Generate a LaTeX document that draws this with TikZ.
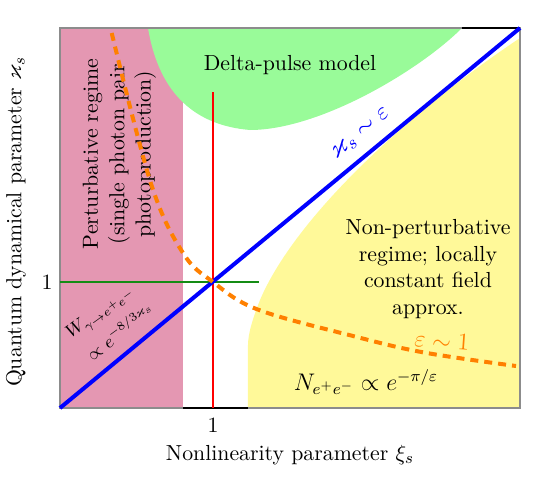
\documentclass[tikz,border=0pt]{standalone}
\usepackage{amsmath,amssymb}
\begin{document}
\begin{tikzpicture}[x=0.5pt,y=-0.5pt,
  body/.style={font=\fontsize{10.9}{13.2}\selectfont, inner sep=0pt, align=center},
  wstyle/.style={font=\fontsize{9}{10.5}\selectfont, inner sep=0pt, rotate=36},
  pinkfill/.style={fill=pinkc, draw=none},
  greenfill/.style={fill=greenc, draw=none},
  yellowfill/.style={fill=yellowc, draw=none}]
\definecolor{pinkc}{RGB}{228,151,178}
\definecolor{greenc}{RGB}{153,251,153}
\definecolor{yellowc}{RGB}{255,249,153}
\definecolor{orangec}{RGB}{255,128,0}
\definecolor{hgreen}{RGB}{20,140,20}
\useasboundingbox (0,0) rectangle (554,477);
% regions
\fill[pinkfill] (60,28) rectangle (183,408);
\fill[greenfill] (148,28) .. controls (158,88) and (190,125) .. (250,130)
  .. controls (320,130) and (420,70) .. (462,28) -- cycle;
\fill[yellowfill] (520,38) .. controls (405,115) and (295,218) .. (260,300)
  .. controls (252,320) and (248,335) .. (248,345) -- (248,408) -- (520,408) -- cycle;
% frame
\draw[black!45, line width=0.6pt] (60,28) rectangle (520,408);
\draw[black, line width=0.6pt] (183,408) -- (248,408);
\draw[black, line width=0.6pt] (462,28) -- (520,28);
% texts
\node[body] (delta) at (290,65) {Delta-pulse model};
\node[body, rotate=90] (pert) at (119.5,154) {Perturbative regime\\(single photon pair\\photoproduction)};
\node[body] (nonpert) at (428,269) {Non-perturbative\\regime; locally\\constant field\\approx.};
\node[wstyle] (wlab) at (101,313) {$W_{\gamma\to e^+e^-}$};
\node[wstyle] (wprop) at (120,331) {$\propto e^{-8/3\varkappa_s}$};
\node[font=\fontsize{11.5}{13}\selectfont, inner sep=0pt] (nlab) at (366,382) {$N_{e^+e^-}\propto e^{-\pi/\varepsilon}$};
% lines
\draw[red, line width=0.75pt] (213,92) -- (213,408);
\draw[hgreen, line width=1pt] (60,282) -- (259.5,282);
\coordinate (bl) at (60,408);
\coordinate (tr) at (520,28);
\draw[blue, line width=2pt] (bl) -- (tr);
\node[blue, font=\fontsize{13}{15}\selectfont, inner sep=0pt, rotate=39.6] (kap) at (361,134) {$\varkappa_s\sim\varepsilon$};
\draw[orangec, line width=2pt, dash pattern=on 4pt off 3pt] plot[smooth, tension=0.6] coordinates
  {(111.7,33) (151,183.6) (183,253) (213,282) (257.7,309.5) (353,336) (424,352.5) (516,366)};
\node[orangec, font=\fontsize{12}{14}\selectfont, inner sep=0pt, rotate=-4] (eps) at (442,341) {$\varepsilon\sim 1$};
% axes labels
\node[body] (xone) at (213,425) {1};
\node[body] (yone) at (47,282) {1};
\node[body] (xlab) at (290,455) {Nonlinearity parameter $\xi_s$};
\node[body, rotate=90] (ylab) at (16,222) {Quantum dynamical parameter $\varkappa_s$};
\end{tikzpicture}
\end{document}
